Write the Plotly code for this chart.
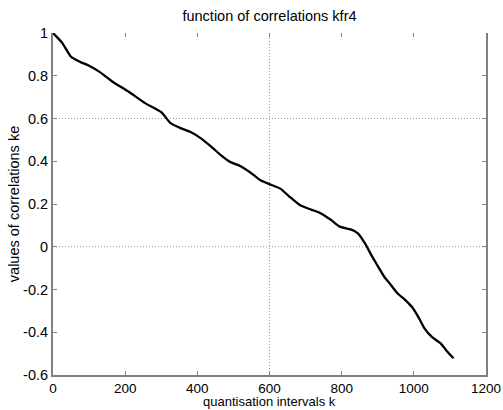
import plotly.graph_objects as go

# data
k_values = [0, 25, 50, 75, 100, 130, 165, 210, 255, 300, 325, 355, 380, 410, 440,
            465, 490, 520, 545, 575, 600, 630, 655, 685, 715, 740, 770, 795, 825,
            845, 865, 880, 900, 920, 930, 955, 975, 995, 1015, 1030, 1050, 1075,
            1090, 1110]
ke_values = [1.0, 0.955, 0.889, 0.865, 0.847, 0.817, 0.772, 0.725, 0.672, 0.630,
             0.580, 0.554, 0.538, 0.507, 0.466, 0.429, 0.398, 0.377, 0.350, 0.311,
             0.293, 0.272, 0.235, 0.194, 0.174, 0.158, 0.126, 0.094, 0.081, 0.063,
             0.015, -0.032, -0.09, -0.145, -0.165, -0.219, -0.247, -0.282, -0.336,
             -0.383, -0.422, -0.453, -0.485, -0.522]

x_ticks = [0, 200, 400, 600, 800, 1000, 1200]
x_ticktext = ["0", "200", "400", "600", "800", "1000", "1200"]
y_ticks = [-0.6, -0.4, -0.2, 0, 0.2, 0.4, 0.6, 0.8, 1]
y_ticktext = ["-0.6", "-0.4", "-0.2", "0", "0.2", "0.4", "0.6", "0.8", "1"]
x_grid = [600]
y_grid = [0, 0.6]
x_title = "quantisation intervals k"
y_title = "values of correlations ke"
chart_title = "function of correlations kfr4"

AX = "#808080"
GRID = "#9a9a9a"
FONT = "Liberation Sans, Arial, sans-serif"
FS = 14.5

fig = go.Figure()
fig.add_trace(go.Scatter(
    x=k_values, y=ke_values, mode="lines",
    line=dict(color="black", width=2.3, shape="spline", smoothing=0.6),
    showlegend=False, hoverinfo="skip",
))
# invisible trace so that the top tick axis is drawn
fig.add_trace(go.Scatter(
    x=k_values[:1], y=ke_values[:1], xaxis="x2", yaxis="y", mode="lines",
    line=dict(width=0), showlegend=False, hoverinfo="skip",
))

for gx in x_grid:
    fig.add_vline(x=gx, line=dict(color=GRID, width=1, dash="1px,2px"), layer="below")
for gy in y_grid:
    fig.add_hline(y=gy, line=dict(color=GRID, width=1, dash="1px,2px"), layer="below")

# x-axis title as an annotation for tight placement under the tick labels
fig.add_annotation(text=x_title, xref="paper", yref="paper", x=0.5, y=-0.078,
                   xanchor="center", yanchor="middle", showarrow=False,
                   font=dict(size=13, color="black"))

fig.update_layout(
    width=503, height=410,
    margin=dict(l=53, r=17, t=33, b=35),
    paper_bgcolor="white", plot_bgcolor="white",
    font=dict(family=FONT, color="black", size=FS),
    title=dict(text=chart_title, x=0.5, xref="paper",
               xanchor="center", y=0.96, yanchor="middle",
               font=dict(size=FS, color="black")),
    xaxis=dict(range=[0, 1200], tickvals=x_ticks, ticktext=x_ticktext,
               ticks="inside", ticklen=4, tickcolor=AX, tickwidth=1,
               showline=True, linecolor=AX, linewidth=2, mirror=False,
               showgrid=False, zeroline=False, automargin=False,
               ticklabeloverflow="allow",
               tickfont=dict(size=13.5, color="black")),
    yaxis=dict(range=[-0.6, 1], tickvals=y_ticks, ticktext=y_ticktext,
               ticks="inside", ticklen=4, tickcolor=AX, tickwidth=1,
               showline=True, linecolor=AX, linewidth=2, mirror="ticks",
               showgrid=False, zeroline=False, automargin=False,
               ticklabeloverflow="allow",
               tickfont=dict(size=FS, color="black"),
               title=dict(text=y_title, font=dict(size=FS), standoff=0)),
    xaxis2=dict(overlaying="x", matches="x", side="top", anchor="y",
                tickvals=x_ticks, ticks="inside", ticklen=4, tickcolor=AX,
                showticklabels=False, showline=False, showgrid=False,
                zeroline=False, automargin=False),
)

# remove the default page margin so the figure fills the window exactly
fig.write_html("out.html", config={"displayModeBar": False},
               post_script="document.body.style.margin='0px';document.body.style.overflow='hidden';")
